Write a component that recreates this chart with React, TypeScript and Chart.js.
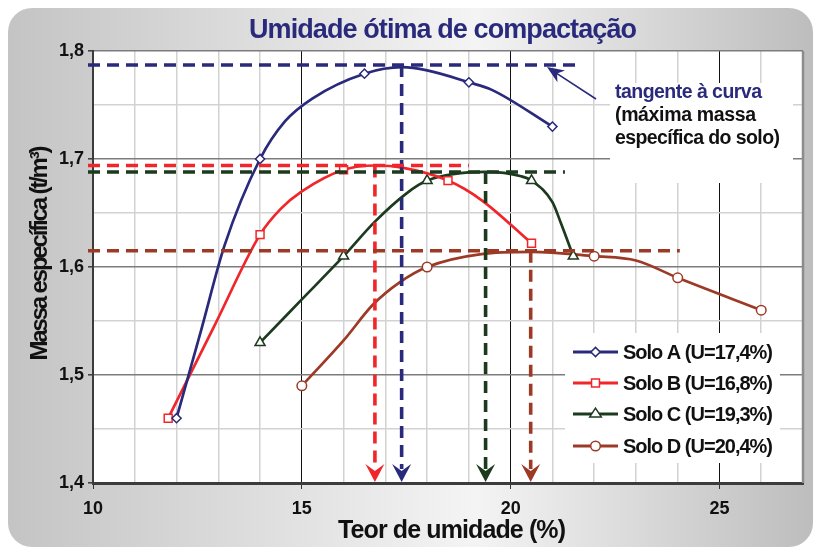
import React, { useEffect, useRef } from 'react';
import { Chart, registerables } from 'chart.js';

Chart.register(...registerables);

// ---------- texts ----------
const chartTitle = 'Umidade ótima de compactação';
const xAxisTitle = 'Teor de umidade (%)';
const yAxisTitle = 'Massa específica (t/m³)';
const noteLines = ['tangente à curva', '(máxima massa', 'específica do solo)'];
const seriesNames = ['Solo A (U=17,4%)', 'Solo B (U=16,8%)', 'Solo C (U=19,3%)', 'Solo D (U=20,4%)'];

// ---------- tick labels ----------
const xTickLabels = [10, 15, 20, 25];
const yTickLabels = ['1,4', '1,5', '1,6', '1,7', '1,8'];

// ---------- series (x = teor de umidade %, y = massa específica) ----------
const soloAX = [12, 12.6, 13.15, 14, 14.6, 15.25, 16.5, 17.4, 18, 19, 19.55, 21];
const soloAY = [1.46, 1.543, 1.62, 1.7, 1.735, 1.756, 1.779, 1.785, 1.782, 1.771, 1.764, 1.73];
const soloAMarked = [1, 0, 0, 1, 0, 0, 1, 0, 0, 1, 0, 1];

const soloBX = [11.8, 12.9, 14, 14.5, 15, 16, 16.75, 17.4, 18.5, 19.3, 20.5];
const soloBY = [1.46, 1.545, 1.63, 1.654, 1.67, 1.69, 1.694, 1.692, 1.68, 1.662, 1.622];
const soloBMarked = [1, 0, 1, 0, 0, 1, 0, 0, 1, 0, 1];

const soloCX = [14, 15, 16, 16.75, 17.5, 18, 19.4, 20.25, 20.5, 21, 21.2, 21.5];
const soloCY = [1.53, 1.57, 1.61, 1.642, 1.668, 1.68, 1.688, 1.684, 1.68, 1.66, 1.641, 1.61];
const soloCMarked = [1, 0, 1, 0, 0, 1, 0, 0, 1, 0, 0, 1];

const soloDX = [15, 16, 16.7, 17.35, 18, 19.3, 20.5, 22, 23, 24, 26];
const soloDY = [1.49, 1.532, 1.565, 1.586, 1.6, 1.612, 1.614, 1.61, 1.606, 1.59, 1.56];
const soloDMarked = [1, 0, 0, 0, 1, 0, 0, 1, 0, 1, 1];

// optimum (tangent) lines: A, B, C, D
const optimumX = [17.39, 16.75, 19.4, 20.48];
const optimumY = [1.787, 1.694, 1.688, 1.615];
const tangentEndX = [21.65, 19.0, 21.3, 24.05];

// ---------- styles ----------
const seriesColors = ['#2a2a7c', '#f0262b', '#1c3a1e', '#9c3a26'];
const seriesStyles = ['rectRot', 'rect', 'triangle', 'circle'];
const seriesRadius = [4.6, 5.6, 5.8, 4.8];
const FONT = '"Liberation Sans", Arial, sans-serif';

function drawFitted(ctx: CanvasRenderingContext2D, text: string, x: number, cy: number, font: string, width: number, color: string, align: 'center' | 'left') {
  ctx.save();
  ctx.font = font;
  (ctx as any).letterSpacing = '0px';
  const n = Array.from(text).length;
  const w0 = ctx.measureText(text).width;
  const ls = n > 1 ? (width - w0) / (n - 1) : 0;
  (ctx as any).letterSpacing = `${ls}px`;
  ctx.fillStyle = color;
  ctx.textBaseline = 'middle';
  ctx.textAlign = 'left';
  const x0 = align === 'center' ? x - width / 2 : x;
  ctx.fillText(text, x0, cy);
  ctx.restore();
}

function arrowHead(ctx: CanvasRenderingContext2D, tx: number, ty: number, dx: number, dy: number, L: number, W: number, N: number, color: string) {
  const len = Math.hypot(dx, dy);
  const ux = dx / len, uy = dy / len;
  const nx = -uy, ny = ux;
  ctx.save();
  ctx.fillStyle = color;
  ctx.beginPath();
  ctx.moveTo(tx, ty);
  ctx.lineTo(tx - ux * L + nx * W, ty - uy * L + ny * W);
  ctx.lineTo(tx - ux * (L - N), ty - uy * (L - N));
  ctx.lineTo(tx - ux * L - nx * W, ty - uy * L - ny * W);
  ctx.closePath();
  ctx.fill();
  ctx.restore();
}

function drawMarker(ctx: CanvasRenderingContext2D, style: string, x: number, y: number, r: number, color: string) {
  ctx.save();
  ctx.fillStyle = '#ffffff';
  ctx.strokeStyle = color;
  ctx.lineWidth = 1.5;
  ctx.beginPath();
  if (style === 'rectRot') {
    ctx.moveTo(x, y - r); ctx.lineTo(x + r, y); ctx.lineTo(x, y + r); ctx.lineTo(x - r, y); ctx.closePath();
  } else if (style === 'rect') {
    const s = r * Math.SQRT1_2;
    ctx.rect(x - s, y - s, 2 * s, 2 * s);
  } else if (style === 'triangle') {
    const h = r * 1.5;
    ctx.moveTo(x, y - r); ctx.lineTo(x + r * 0.866 * 1.15, y + h - r); ctx.lineTo(x - r * 0.866 * 1.15, y + h - r); ctx.closePath();
  } else {
    ctx.arc(x, y, r, 0, Math.PI * 2);
  }
  ctx.fill();
  ctx.stroke();
  ctx.restore();
}

const backgroundPlugin = {
  id: 'backgroundPlugin',
  beforeDraw(chart: any) {
    const { ctx, width, height, chartArea: a } = chart;
    ctx.save();
    ctx.fillStyle = '#ffffff';
    ctx.fillRect(0, 0, width, height);
    const g = ctx.createLinearGradient(8, 0, 813, 0);
    g.addColorStop(0, '#c4c4c4');
    g.addColorStop(0.58, '#f4f4f4');
    g.addColorStop(1, '#bdbdbd');
    ctx.fillStyle = g;
    ctx.beginPath();
    ctx.roundRect(8, 8, 805, 539, 24);
    ctx.fill();
    ctx.fillStyle = '#ffffff';
    ctx.fillRect(a.left, a.top, a.right - a.left, a.bottom - a.top);
    ctx.restore();
  },
};

const overlayPlugin = {
  id: 'overlayPlugin',
  afterDatasetsDraw(chart: any) {
    const { ctx, chartArea: a, scales } = chart;
    const xs = scales.x, ys = scales.y;
    ctx.save();
    // right border
    ctx.strokeStyle = '#8c8c8c';
    ctx.lineWidth = 2.5;
    ctx.beginPath();
    ctx.moveTo(a.right, a.top);
    ctx.lineTo(a.right, a.bottom);
    ctx.stroke();

    // tangent / optimum dashed lines
    optimumX.forEach((ox, i) => {
      const px = xs.getPixelForValue(ox);
      const py = ys.getPixelForValue(optimumY[i]);
      const ex = xs.getPixelForValue(tangentEndX[i]);
      ctx.strokeStyle = seriesColors[i];
      ctx.lineWidth = 3.6;
      ctx.setLineDash([12, 7]);
      ctx.beginPath();
      ctx.moveTo(a.left - 5, py);
      ctx.lineTo(ex, py);
      ctx.stroke();
      ctx.beginPath();
      ctx.moveTo(px, py);
      ctx.lineTo(px, a.bottom - 14);
      ctx.stroke();
      ctx.setLineDash([]);
      arrowHead(ctx, px, a.bottom - 1, 0, 1, 18, 9.5, 7, seriesColors[i]);
    });

    // legend
    const lx = 565, ly = 333, lw = 215, lh = 130;
    ctx.fillStyle = '#ffffff';
    ctx.fillRect(lx, ly, lw, lh);
    const rows = [352, 383, 414, 446];
    seriesNames.forEach((name, i) => {
      const yy = rows[i];
      ctx.strokeStyle = seriesColors[i];
      ctx.lineWidth = 3;
      ctx.beginPath();
      ctx.moveTo(573, yy);
      ctx.lineTo(618, yy);
      ctx.stroke();
      drawMarker(ctx, seriesStyles[i], 595.5, yy, seriesRadius[i], seriesColors[i]);
      drawFitted(ctx, name, 623, yy + 1, `bold 20px ${FONT}`, 150, '#111111', 'left');
    });

    // note box
    ctx.fillStyle = '#ffffff';
    ctx.fillRect(610, 83, 183, 100);
    drawFitted(ctx, noteLines[0], 615, 93, `bold 19.5px ${FONT}`, 147, '#2a2a7c', 'left');
    drawFitted(ctx, noteLines[1], 615, 116, `bold 19.5px ${FONT}`, 141, '#111111', 'left');
    drawFitted(ctx, noteLines[2], 615, 139, `bold 19.5px ${FONT}`, 165, '#111111', 'left');

    // pointer arrow to tangent line
    const tipX = xs.getPixelForValue(20.87);
    const tipY = ys.getPixelForValue(optimumY[0]) + 2;
    const tailX = 596, tailY = 99;
    ctx.strokeStyle = '#2a2a7c';
    ctx.lineWidth = 1.6;
    ctx.beginPath();
    ctx.moveTo(tailX, tailY);
    ctx.lineTo(tipX + (tailX - tipX) * 0.15, tipY + (tailY - tipY) * 0.15);
    ctx.stroke();
    arrowHead(ctx, tipX, tipY, tipX - tailX, tipY - tailY, 17, 7, 5, '#2a2a7c');

    // titles
    drawFitted(ctx, chartTitle, 443, 31, `bold 27px ${FONT}`, 388, '#2a2a7c', 'center');
    drawFitted(ctx, xAxisTitle, 452, 531, `bold 25px ${FONT}`, 228, '#111111', 'center');
    ctx.save();
    ctx.translate(40, 253);
    ctx.rotate(-Math.PI / 2);
    drawFitted(ctx, yAxisTitle, 0, 0, `bold 24px ${FONT}`, 215, '#111111', 'center');
    ctx.restore();
    ctx.restore();
  },
};

function makeDataset(i: number, xsArr: number[], ysArr: number[], marked: number[]) {
  return {
    label: seriesNames[i],
    data: xsArr.map((x, k) => ({ x, y: ysArr[k] })),
    borderColor: seriesColors[i],
    backgroundColor: '#ffffff',
    borderWidth: 2.7,
    pointStyle: seriesStyles[i],
    pointRadius: marked.map((m) => (m ? seriesRadius[i] : 0)),
    pointHoverRadius: 0,
    pointBorderColor: seriesColors[i],
    pointBackgroundColor: '#ffffff',
    pointBorderWidth: 1.5,
    cubicInterpolationMode: 'monotone',
    fill: false,
  };
}

const isMajorX = (v: number) => xTickLabels.includes(Math.round(v * 100) / 100);
const yLabelFor = (v: number) => {
  const label = (Math.round(v * 10) / 10).toFixed(1).replace('.', ',');
  return Math.abs(v * 10 - Math.round(v * 10)) < 1e-6 && yTickLabels.includes(label) ? label : '';
};

export default function App() {
  const ref = useRef<HTMLCanvasElement | null>(null);
  useEffect(() => {
    if (!ref.current) return;
    const chart = new Chart(ref.current, {
      type: 'line',
      data: {
        datasets: [
          makeDataset(0, soloAX, soloAY, soloAMarked),
          makeDataset(1, soloBX, soloBY, soloBMarked),
          makeDataset(2, soloCX, soloCY, soloCMarked),
          makeDataset(3, soloDX, soloDY, soloDMarked),
        ] as any,
      },
      options: {
        animation: false,
        responsive: false,
        maintainAspectRatio: false,
        layout: { padding: { left: 0, top: 51, right: 12, bottom: 0 } },
        plugins: { legend: { display: false }, title: { display: false }, tooltip: { enabled: false } },
        scales: {
          x: {
            type: 'linear',
            min: 10,
            max: 27,
            afterFit: (s: any) => { s.height = 67; },
            ticks: {
              stepSize: 1,
              autoSkip: false,
              maxRotation: 0,
              padding: 9,
              color: '#111111',
              font: { family: FONT, size: 18, weight: 'bold' },
              callback: (v: any) => (isMajorX(Number(v)) ? String(v) : ''),
            },
            grid: {
              color: (c: any) => (isMajorX(c.tick.value) ? '#111111' : '#d2d2d2'),
              lineWidth: (c: any) => (isMajorX(c.tick.value) ? 1 : 1.5),
              tickLength: 6,
              tickColor: (c: any) => (isMajorX(c.tick.value) ? '#333333' : 'rgba(0,0,0,0)'),
            },
            border: { color: '#3c3c3c', width: 3 },
          },
          y: {
            min: 1.4,
            max: 1.8,
            afterFit: (s: any) => { s.width = 93; },
            ticks: {
              stepSize: 0.05,
              autoSkip: false,
              padding: 4,
              color: '#111111',
              font: { family: FONT, size: 18, weight: 'bold' },
              callback: (v: any) => yLabelFor(Number(v)),
            },
            grid: {
              color: (c: any) => (yLabelFor(c.tick.value) ? '#7c7c7c' : '#d2d2d2'),
              lineWidth: (c: any) => (yLabelFor(c.tick.value) ? 1.6 : 1.5),
              tickLength: 5,
              tickColor: (c: any) => (yLabelFor(c.tick.value) ? '#444444' : 'rgba(0,0,0,0)'),
            },
            border: { color: '#3c3c3c', width: 2 },
          },
        },
      } as any,
      plugins: [backgroundPlugin, overlayPlugin],
    });
    return () => chart.destroy();
  }, []);
  return (
    <div style={{ position: 'absolute', left: 0, top: 0, width: 815, height: 550 }}>
      <canvas ref={ref} width={815} height={550} style={{ display: 'block', width: 815, height: 550 }} />
    </div>
  );
}
